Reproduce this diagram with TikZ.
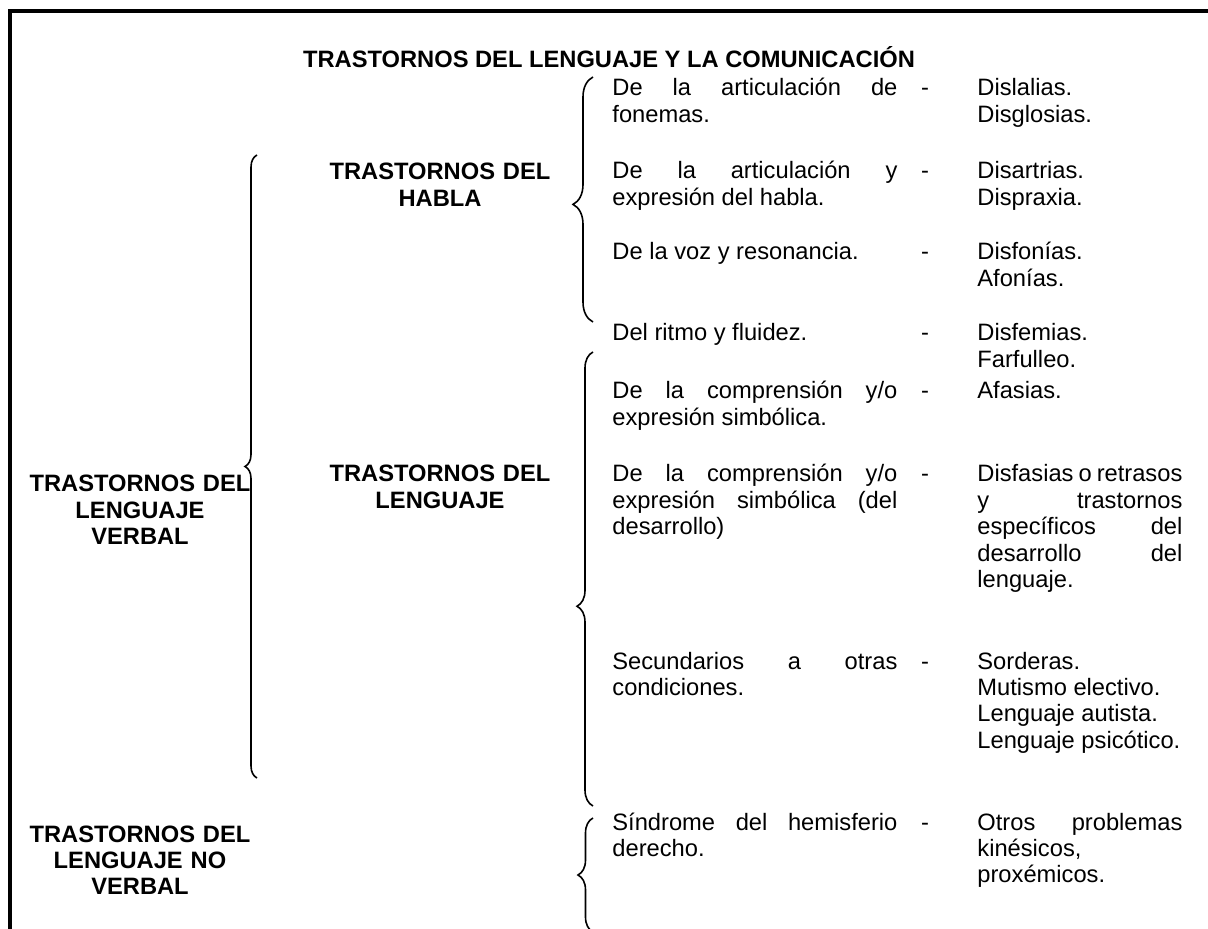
\documentclass[tikz,border=0pt]{standalone}
\usepackage{fontspec}
\setmainfont{Liberation Sans}
\usetikzlibrary{decorations.pathreplacing}
\hbadness=10000

\tikzset{
    every node/.style={inner sep=0pt, font=\fontsize{11.85}{13.2}\selectfont},
    head/.style={anchor=base, text width=125pt, align=center, font=\fontsize{11.85}{13.2}\selectfont\bfseries},
    item/.style={anchor=base west, text width=142.5pt, align=justify},
    kind/.style={anchor=base west, text width=102.5pt, align=justify},
    dashmark/.style={anchor=base},
    curly/.style={decorate, line width=0.8pt},
    frame/.style={line width=2pt}
}

\begin{document}
\begin{tikzpicture}[x=0.5pt, y=-0.5pt]
    \useasboundingbox (0,0) rectangle (1208,929);
    % frame
    \coordinate (fl) at (10,929);
    \coordinate (fc) at (10,11);
    \coordinate (fr) at (1208,11);
    \draw[frame] (fl) -- (fc) -- (fr);

    \node[anchor=base, font=\fontsize{11.85}{13.2}\selectfont\bfseries](title) at (609,68)
        {TRASTORNOS DEL LENGUAJE Y LA COMUNICACIÓN};

    % left labels
    \node[head](verbal)   at (140,492) {TRASTORNOS DEL\\ LENGUAJE\\ VERBAL};
    \node[head](noverbal) at (140,842) {TRASTORNOS DEL\\ LENGUAJE NO\\ VERBAL};
    \node[head](habla)    at (440,180) {TRASTORNOS DEL\\ HABLA};
    \node[head](lenguaje) at (440,482) {TRASTORNOS DEL\\ LENGUAJE};

    % middle column
    \node[item](art)    at (612,96)  {De la articulación de\linebreak fonemas.};
    \node[item](expr)   at (612,179) {De la articulación y\linebreak expresión del habla.};
    \node[item](voz)    at (612,260) {De la voz y resonancia.};
    \node[item](ritmo)  at (612,341) {Del ritmo y fluidez.};
    \node[item](compr)  at (612,399) {De la comprensión y/o\linebreak expresión simbólica.};
    \node[item](desa)   at (612,482) {De la comprensión y/o\linebreak expresión simbólica (del\linebreak desarrollo)};
    \node[item](secu)   at (612,669) {Secundarios a otras\linebreak condiciones.};
    \node[item](sind)   at (612,830) {Síndrome del hemisferio\linebreak derecho.};

    % dashes
    \foreach \y in {96,179,260,341,399,482,669,830}
        \node[dashmark] at (925,\y) {-};

    % right column
    \node[kind](disl)   at (977,96)  {Dislalias.\newline Disglosias.};
    \node[kind](disa)   at (977,179) {Disartrias.\newline Dispraxia.};
    \node[kind](disf)   at (977,260) {Disfonías.\newline Afonías.};
    \node[kind](disfe)  at (977,341) {Disfemias.\newline Farfulleo.};
    \node[kind](afas)   at (977,399) {Afasias.};
    \node[kind](disfa)  at (977,482) {Disfasias o retrasos\linebreak y trastornos\linebreak específicos del\linebreak desarrollo del\linebreak lenguaje.};
    \node[kind](sord)   at (977,669) {Sorderas.\newline Mutismo electivo.\newline Lenguaje autista.\newline Lenguaje psicótico.};
    \node[kind](otros)  at (977,830) {Otros problemas\linebreak kinésicos,\newline proxémicos.};

    % braces
    \coordinate (vb) at (257,778);  \coordinate (vt) at (257,155);
    \coordinate (hb) at (593,322);  \coordinate (ht) at (593,77);
    \coordinate (lb) at (593,806);  \coordinate (lt) at (593,352);
    \coordinate (nb) at (593,932);  \coordinate (nt) at (593,818);
    \draw[curly, decoration={brace, amplitude=6pt, aspect=0.5}]  (vb) -- (vt);
    \draw[curly, decoration={brace, amplitude=10pt, aspect=0.48}] (hb) -- (ht);
    \draw[curly, decoration={brace, amplitude=8pt, aspect=0.44}]  (lb) -- (lt);
    \draw[curly, decoration={brace, amplitude=7.5pt, aspect=0.5}] (nb) -- (nt);
\end{tikzpicture}
\end{document}
